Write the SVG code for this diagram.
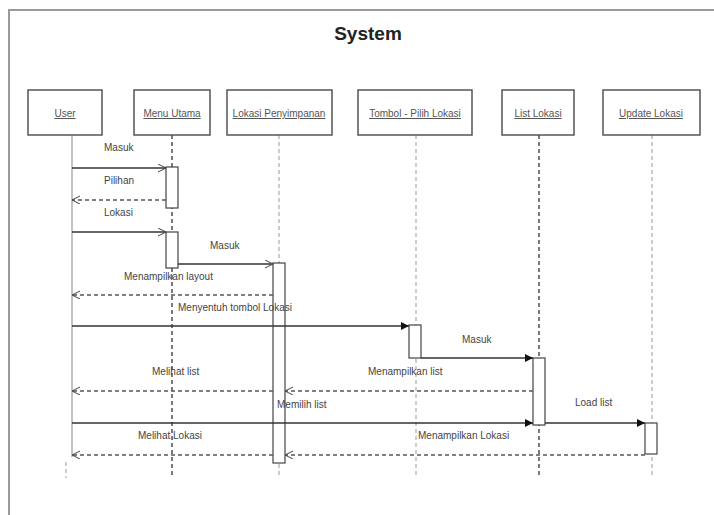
<svg xmlns="http://www.w3.org/2000/svg" width="714" height="515" viewBox="0 0 714 515">
  <style>
    .frame { fill: none; stroke: #9a9a9a; stroke-width: 2; }
    .title { font-family: "Liberation Sans", Arial, sans-serif; font-size: 19px; font-weight: bold; fill: #222; }
    .head { fill: #fff; stroke: #555; stroke-width: 1.5; }
    .hlabel { font-family: "Liberation Sans", Arial, sans-serif; font-size: 10px; fill: #555; text-decoration: underline; }
    .lbl { font-family: "Liberation Sans", Arial, sans-serif; font-size: 10px; fill: #444; }
    .life { stroke: #333; stroke-width: 1.3; stroke-dasharray: 4 3; fill: none; }
    .life-light { stroke: #999; stroke-width: 1; stroke-dasharray: 4 3; fill: none; }
    .life-solid { stroke: #999; stroke-width: 1.2; fill: none; }
    .act { fill: #fff; stroke: #444; stroke-width: 1.2; }
    .msg { stroke: #333; stroke-width: 1.4; fill: none; }
    .ret { stroke: #555; stroke-width: 1.6; stroke-dasharray: 4 3; fill: none; }
  </style>
  <defs>
    <marker id="open" markerWidth="10" markerHeight="10" refX="8" refY="4" orient="auto" markerUnits="userSpaceOnUse">
      <path d="M0,0 L8,4 L0,8" fill="none" stroke="#444" stroke-width="1"/>
    </marker>
    <marker id="filled" markerWidth="10" markerHeight="10" refX="8" refY="4" orient="auto" markerUnits="userSpaceOnUse">
      <path d="M0,0 L8,4 L0,8 Z" fill="#111"/>
    </marker>
  </defs>

  <rect width="714" height="515" fill="#fff"/>
  <!-- system frame -->
  <path class="frame" d="M9,515 V10 H714"/>
  <text class="title" x="368" y="40" text-anchor="middle">System</text>

  <!-- lifelines -->
  <g id="lifelines">
    <line class="life-solid" x1="72" y1="135" x2="72" y2="457"/>
    <line class="life-light" x1="66" y1="462" x2="66" y2="478"/>
    <line class="life" x1="172" y1="135" x2="172" y2="478"/>
    <line class="life-light" x1="279" y1="135" x2="279" y2="478"/>
    <line class="life-light" x1="416" y1="135" x2="416" y2="478"/>
    <line class="life" x1="539" y1="135" x2="539" y2="478"/>
    <line class="life-light" x1="652" y1="135" x2="652" y2="478"/>
  </g>

  <!-- participants -->
  <g id="user">
    <rect class="head" x="28" y="90" width="74" height="45"/>
    <text class="hlabel" x="65" y="117" text-anchor="middle">User</text>
  </g>
  <g id="menu-utama">
    <rect class="head" x="134" y="90" width="76" height="45"/>
    <text class="hlabel" x="172" y="117" text-anchor="middle">Menu Utama</text>
  </g>
  <g id="lokasi-penyimpanan">
    <rect class="head" x="227" y="90" width="105" height="45"/>
    <text class="hlabel" x="279" y="117" text-anchor="middle">Lokasi Penyimpanan</text>
  </g>
  <g id="tombol-pilih-lokasi">
    <rect class="head" x="358" y="90" width="114" height="45"/>
    <text class="hlabel" x="415" y="117" text-anchor="middle">Tombol - Pilih Lokasi</text>
  </g>
  <g id="list-lokasi">
    <rect class="head" x="502" y="90" width="72" height="45"/>
    <text class="hlabel" x="538" y="117" text-anchor="middle">List Lokasi</text>
  </g>
  <g id="update-lokasi">
    <rect class="head" x="603" y="90" width="97" height="45"/>
    <text class="hlabel" x="651" y="117" text-anchor="middle">Update Lokasi</text>
  </g>

  <!-- activation bars -->
  <g id="activations">
    <rect class="act" x="166" y="167" width="12" height="41"/>
    <rect class="act" x="166" y="232" width="12" height="36"/>
    <rect class="act" x="273" y="263" width="12" height="200"/>
    <rect class="act" x="409" y="325" width="12" height="33"/>
    <rect class="act" x="533" y="358" width="12" height="67"/>
    <rect class="act" x="645" y="423" width="12" height="31"/>
  </g>

  <!-- messages -->
  <g id="connectors">
    <line class="msg" x1="72" y1="168" x2="166" y2="168" marker-end="url(#open)"/>
    <line class="ret" x1="166" y1="200" x2="72" y2="200" marker-end="url(#open)"/>
    <line class="msg" x1="72" y1="232" x2="166" y2="232" marker-end="url(#open)"/>
    <line class="msg" x1="178" y1="264" x2="273" y2="264" marker-end="url(#open)"/>
    <line class="ret" x1="273" y1="295" x2="72" y2="295" marker-end="url(#open)"/>
    <line class="msg" x1="72" y1="326" x2="409" y2="326" marker-end="url(#filled)"/>
    <line class="msg" x1="421" y1="358" x2="533" y2="358" marker-end="url(#filled)"/>
    <line class="ret" x1="533" y1="391" x2="285" y2="391" marker-end="url(#open)"/>
    <line class="ret" x1="273" y1="391" x2="72" y2="391" marker-end="url(#open)"/>
    <line class="msg" x1="72" y1="423" x2="533" y2="423" marker-end="url(#filled)"/>
    <line class="msg" x1="545" y1="423" x2="645" y2="423" marker-end="url(#filled)"/>
    <line class="ret" x1="645" y1="455" x2="285" y2="455" marker-end="url(#open)"/>
    <line class="ret" x1="273" y1="455" x2="72" y2="455" marker-end="url(#open)"/>
  </g>

  <!-- message labels -->
  <g id="labels">
    <text class="lbl" x="104" y="151">Masuk</text>
    <text class="lbl" x="104" y="184">Pilihan</text>
    <text class="lbl" x="104" y="216">Lokasi</text>
    <text class="lbl" x="210" y="249">Masuk</text>
    <text class="lbl" x="124" y="280">Menampilkan layout</text>
    <text class="lbl" x="178" y="311">Menyentuh tombol Lokasi</text>
    <text class="lbl" x="462" y="343">Masuk</text>
    <text class="lbl" x="152" y="375">Melihat list</text>
    <text class="lbl" x="368" y="375">Menampilkan list</text>
    <text class="lbl" x="277" y="408">Memilih list</text>
    <text class="lbl" x="575" y="406">Load list</text>
    <text class="lbl" x="138" y="439">Melihat Lokasi</text>
    <text class="lbl" x="418" y="439">Menampilkan Lokasi</text>
  </g>
</svg>
